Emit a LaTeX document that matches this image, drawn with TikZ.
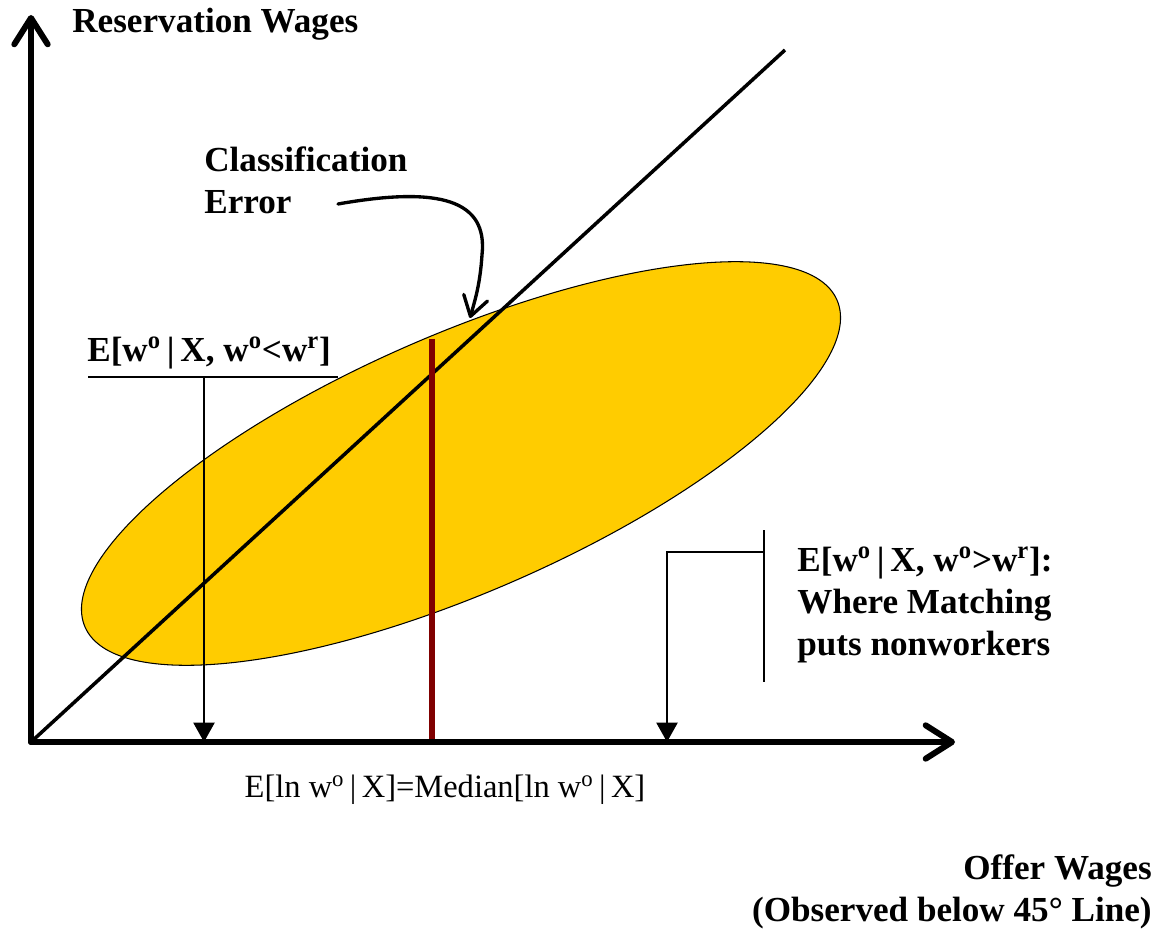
\documentclass[tikz,border=0pt]{standalone}
\usepackage{fontspec}
\setmainfont{Liberation Serif}
\usetikzlibrary{arrows.meta}
\definecolor{blobyellow}{HTML}{FFCC00}
\definecolor{mediared}{HTML}{800000}

\begin{document}
\begin{tikzpicture}[x=0.02cm, y=-0.02cm,
  lbl/.style={font=\fontsize{20}{24}\selectfont\bfseries, inner sep=0pt},
  reg/.style={font=\fontsize{18.5}{22}\selectfont, inner sep=0pt},
  axisline/.style={line width=3.4pt, line cap=round, -{Straight Barb[length=15pt, width=19pt, round]}},
  pointer/.style={line width=1.1pt, -{Triangle[length=11pt, width=12pt]}},
  thinline/.style={line width=1.1pt}]
  \useasboundingbox (0,0) rectangle (1162,935);
  % --- punkter ---
  \coordinate (O) at (31,742);
  \coordinate (ytip) at (31,15);
  \coordinate (xtip) at (955,742);
  \coordinate (diag) at (785,50);
  \coordinate (medtop) at (432,339);
  \coordinate (ulL) at (88,377);
  \coordinate (ulR) at (338,377);
  \coordinate (ulA) at (204,377);
  \coordinate (brkT) at (764,530);
  \coordinate (brkB) at (764,682);
  \coordinate (brk) at (764,552);
  \coordinate (drop) at (667,552);
  \coordinate (errstart) at (338,204);
  \coordinate (errtip) at (470,318);
  % --- fordeling ---
  \begin{scope}[shift={(461,463.5)}, rotate=23.5]
    \draw[fill=blobyellow, line width=0.6pt] (0,0) ellipse [x radius=410, y radius=129];
  \end{scope}
  % --- 45 graders linje og median ---
  \draw[line width=2pt] (O) -- (diag);
  \draw[mediared, line width=3.4pt] (medtop) -- (medtop |- O);
  % --- tekster ---
  \node[lbl, anchor=west] (ylabel) at (72,24) {Reservation Wages};
  \node[lbl, anchor=east, align=right] (xlabel) at (1152,892) {Offer Wages\\(Observed below 45° Line)};
  \node[lbl, anchor=west, align=left] (err) at (204,180) {Classification\\Error};
  \node[lbl, anchor=west] (lower) at (87,353) {E[w\textsuperscript{o}\,|\,X, w\textsuperscript{o}<w\textsuperscript{r}]};
  \node[lbl, anchor=west, align=left] (upper) at (797,605) {E[w\textsuperscript{o}\,|\,X, w\textsuperscript{o}>w\textsuperscript{r}]:\\Where Matching\\puts nonworkers};
  \node[reg] (median) at (445,790) {E[ln w\textsuperscript{o}\,|\,X]=Median[ln w\textsuperscript{o}\,|\,X]};
  % --- pile ---
  \draw[thinline] (ulL) -- (ulR);
  \draw[pointer] (ulA) -- (ulA |- O);
  \draw[thinline] (brkT) -- (brkB);
  \draw[pointer] (brk) -- (drop) -- (drop |- O);
  \draw[line width=1.9pt, line cap=round, -{Straight Barb[length=11pt, width=14pt, round]}]
    (errstart) .. controls (440,186) and (488,200) .. (482,255)
    .. controls (480,285) and (475,300) .. (errtip);
  % --- akser ---
  \draw[axisline] (O) -- (ytip);
  \draw[axisline] (O) -- (xtip);
\end{tikzpicture}
\end{document}
